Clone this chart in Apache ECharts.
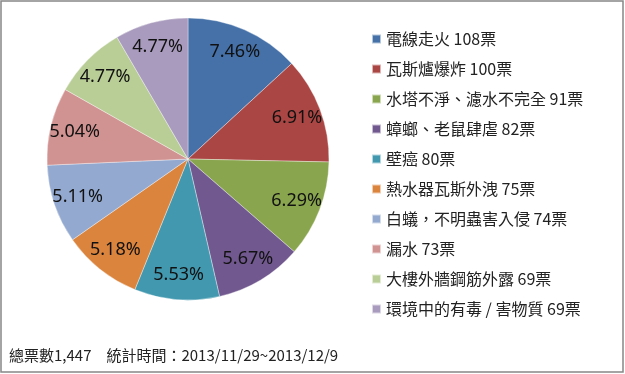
<!DOCTYPE html>
<html>
<head>
<meta charset="utf-8">
<script src="https://cdn.jsdelivr.net/npm/echarts@6/dist/echarts.min.js"></script>
<style>
html,body{margin:0;padding:0;background:#fff;}
#chart{width:625px;height:374px;}
</style>
</head>
<body>
<div id="chart"></div>
<script>
const categories = ['電線走火','瓦斯爐爆炸','水塔不淨、濾水不完全','蟑螂、老鼠肆虐','壁癌','熱水器瓦斯外洩','白蟻，不明蟲害入侵','漏水','大樓外牆鋼筋外露','環境中的有毒 / 害物質'];
const votes = [108,100,91,82,80,75,74,73,69,69];
const totalVotes = 1447;
const colors = ['#4571A8','#AA4643','#89A54E','#71588F','#4198AF','#DB843D','#93A9CF','#D19392','#B9CD96','#A99BBD'];
const footerText = '總票數1,447　統計時間：2013/11/29~2013/12/9';

const data = categories.map((c,i)=>({name:c, value:votes[i], itemStyle:{color:colors[i]}}));
const cjkFont = '"Noto Sans CJK TC","Noto Sans",sans-serif';

const chart = echarts.init(document.getElementById('chart'), null, {renderer:'canvas'});
chart.setOption({
  animation:false,
  color:colors,
  legend:{
    orient:'vertical',
    left:366, top:26,
    itemWidth:9, itemHeight:9,
    itemGap:14,
    icon:'rect',
    selectedMode:false,
    textStyle:{fontFamily:cjkFont, fontSize:16, color:'#222', lineHeight:16},
    formatter:function(name){
      const i = categories.indexOf(name);
      return name + ' ' + votes[i] + '票';
    },
    data:categories
  },
  graphic:[
    {type:'rect', shape:{x:1,y:1,width:622,height:371}, style:{fill:null, stroke:'#868686', lineWidth:1.5}, silent:true},
    {type:'text', left:9, top:348, style:{text:footerText, font:'15px "Noto Sans CJK TC", sans-serif', fill:'#222'}}
  ],
  series:[
    {
      type:'pie',
      center:[188,159],
      radius:[0,141],
      startAngle:90,
      clockwise:true,
      silent:true,
      label:{show:false},
      labelLine:{show:false},
      itemStyle:{borderColor:'rgba(255,255,255,0.6)', borderWidth:0.6},
      data:data
    },
    {
      type:'pie',
      center:[188,159],
      radius:[86,141],
      startAngle:90,
      clockwise:true,
      silent:true,
      itemStyle:{color:'rgba(0,0,0,0)', borderWidth:0},
      label:{
        show:true, position:'inside',
        fontFamily:'"Noto Sans",sans-serif', fontSize:18, color:'#111',
        formatter:function(p){ return (p.value/totalVotes*100).toFixed(2)+'%'; }
      },
      labelLine:{show:false},
      data:categories.map((c,i)=>({name:c, value:votes[i]}))
    }
  ]
});
</script>
</body>
</html>
